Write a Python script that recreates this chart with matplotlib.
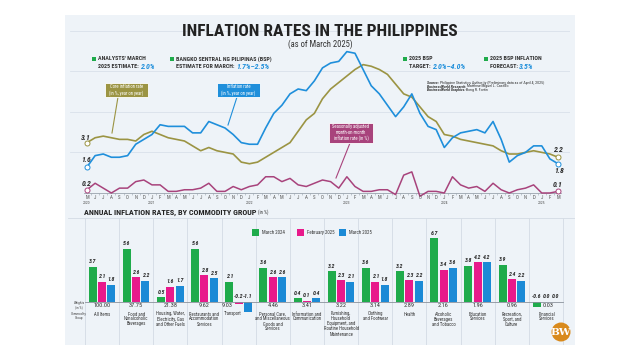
import matplotlib
matplotlib.use('Agg')
import matplotlib.pyplot as plt
import numpy as np
import pandas as pd
from matplotlib import font_manager
from matplotlib.patches import Rectangle, Ellipse
from matplotlib.lines import Line2D

names = {f.name for f in font_manager.fontManager.ttflist}
NARROW = 'DejaVu Sans'
for cand in ['Roboto Condensed', 'Barlow Condensed', 'Archivo Narrow', 'Liberation Sans Narrow']:
    if cand in names:
        NARROW = cand
        break
plt.rcParams['font.family'] = [NARROW, 'DejaVu Sans']

# ---------------- data ----------------
months = pd.date_range('2020-05-01', '2025-03-01', freq='MS')
month_letters = [m.strftime('%b')[0] for m in months]

headline = [1.6, 2.3, 2.4, 2.2, 2.2, 2.3, 3.0, 3.3,
            3.6, 4.2, 4.1, 4.1, 4.1, 3.7, 3.7, 4.4, 4.2, 4.0, 3.6, 3.1,
            3.0, 3.0, 4.0, 4.9, 5.4, 6.1, 6.4, 6.3, 6.9, 7.7, 8.0, 8.1,
            8.7, 8.6, 7.6, 6.6, 6.1, 5.4, 4.7, 5.3, 6.1, 4.9, 4.1, 3.9,
            2.8, 3.4, 3.7, 3.8, 3.9, 3.7, 4.4, 3.3, 1.9, 2.3, 2.5, 2.9,
            2.9, 2.1, 1.8]
core = [3.1, 3.4, 3.5, 3.4, 3.3, 3.3, 3.2, 3.6,
        3.8, 3.6, 3.4, 3.3, 3.2, 2.9, 2.6, 2.8, 2.6, 2.5, 2.4, 1.9,
        1.8, 1.9, 2.2, 2.5, 2.8, 3.1, 3.8, 4.5, 4.9, 5.8, 6.4, 6.8,
        7.2, 7.6, 7.9, 7.8, 7.6, 7.3, 6.7, 6.1, 5.9, 5.3, 4.7, 4.4,
        3.6, 3.5, 3.3, 3.2, 3.1, 3.0, 2.9, 2.6, 2.4, 2.4, 2.5, 2.6,
        2.5, 2.4, 2.2]
mom = [0.2, 0.6, 0.3, 0.0, 0.3, 0.3, 0.7, 0.8,
       0.5, 0.5, 0.1, 0.1, 0.2, 0.2, 0.3, 0.6, 0.1, 0.1, 0.4, 0.2,
       0.4, 0.5, 1.0, 1.0, 0.7, 0.9, 0.5, 0.4, 0.6, 0.8, 0.7, 0.3,
       1.0, 0.4, 0.1, 0.1, 0.2, 0.2, -0.1, 1.1, 1.3, -0.2, 0.1, 0.1,
       0.0, 1.0, 0.5, 0.3, 0.4, 0.1, 0.6, 0.2, 0.0, 0.2, 0.3, 0.5,
       0.0, 0.0, 0.1]

categories = ["All Items", "Food and\nNonalcoholic\nBeverages",
              "Housing, Water,\nElectricity, Gas\nand Other Fuels",
              "Restaurants and\nAccommodation\nServices", "Transport",
              "Personal Care,\nand Miscellaneous\nGoods and\nServices",
              "Information and\nCommunication",
              "Furnishing,\nHousehold\nEquipment, and\nRoutine Household\nMaintenance",
              "Clothing\nand Footwear", "Health",
              "Alcoholic\nBeverages\nand Tobacco", "Education\nServices",
              "Recreation,\nSport, and\nCulture", "Financial\nServices"]
weights = ["100.00", "37.75", "21.38", "9.62", "9.03", "4.46", "3.41",
           "3.22", "3.14", "2.89", "2.16", "1.96", "0.96", "0.03"]
mar2024 = [3.7, 5.6, 0.5, 5.6, 2.1, 3.6, 0.4, 3.2, 3.6, 3.2, 6.7, 3.8, 3.9, -0.6]
feb2025 = [2.1, 2.6, 1.6, 2.8, -0.2, 2.6, 0.1, 2.3, 2.1, 2.3, 3.4, 4.2, 2.4, 0.0]
mar2025 = [1.8, 2.2, 1.7, 2.5, -1.1, 2.6, 0.4, 2.1, 1.8, 2.2, 3.6, 4.2, 2.2, 0.0]
series_names = ["March 2024", "February 2025", "March 2025"]

# ---------------- styles ----------------
C_BLUE = '#1f8fdb'
C_OLIVE = '#9b9443'
C_MAG = '#a8437c'
C_GREEN = '#1fab4b'
C_PINK = '#e8198b'
C_BBLUE = '#1b8ad6'
C_TXT = '#2b2b2b'

W, H = 640, 360
fig = plt.figure(figsize=(6.4, 3.6), dpi=100)
fig.patch.set_facecolor('white')


def fx(x):
    return x / W


def fy(y):
    return 1 - y / H


fig.patches.append(Rectangle((fx(65), fy(345)), fx(575) - fx(65), fy(15) - fy(345),
                             transform=fig.transFigure, facecolor='#eef3f8',
                             edgecolor='none', zorder=-5))

renderer = fig.canvas.get_renderer()


def rich(x, y, parts, va='center'):
    cur = fx(x)
    for s, kw in parts:
        t = fig.text(cur, fy(y), s, ha='left', va=va, **kw)
        bb = t.get_window_extent(renderer=renderer)
        cur = bb.x1 / W
    return cur


# ---------------- line chart ----------------
PXM = (558 - 87) / 58.0
PXU = 16.25
ax = fig.add_axes([fx(70), fy(200), (570 - 70) / W, (200 - 25) / H])
ax.set_xlim(-(87 - 70) / PXM, 58 + (570 - 558) / PXM)
ax.set_ylim(-(200 - 193) / PXU, (193 - 25) / PXU)
ax.axis('off')
ax.patch.set_alpha(0)

for g in [2.5, 5, 7.5, 10]:
    ax.axhline(g, color='#d9e1ea', lw=0.6, zorder=0)

x = np.arange(len(months))
ax.plot([-0.4, len(months) - 0.6], [0, 0], color='#9aa3ad', lw=0.6, zorder=1)
ax.vlines(x[:-1] + 0.5, -0.12, 0, color='#9aa3ad', lw=0.4)

ax.plot(x, core, color=C_OLIVE, lw=1.2, zorder=3)
ax.plot(x, headline, color=C_BLUE, lw=1.2, zorder=4)
ax.plot(x, mom, color=C_MAG, lw=1.1, zorder=3)

for ser, col in [(core, C_OLIVE), (headline, C_BLUE), (mom, C_MAG)]:
    ax.plot([x[0], x[-1]], [ser[0], ser[-1]], 'o', ms=3.6, mfc='white', mec=col,
            mew=0.7, zorder=5)

lab_kw = dict(fontsize=5.6, fontweight='bold', fontstyle='italic', color=C_TXT,
              ha='center', va='center')
ax.text(x[0] - 0.1, core[0] + 0.32, f"{core[0]:.1f}", **lab_kw)
ax.text(x[0] - 0.1, headline[0] + 0.45, f"{headline[0]:.1f}", **lab_kw)
ax.text(x[0] - 0.1, mom[0] + 0.38, f"{mom[0]:.1f}", **lab_kw)
ax.text(x[-1], core[-1] + 0.45, f"{core[-1]:.1f}", **lab_kw)
ax.text(x[-1] + 0.1, headline[-1] - 0.4, f"{headline[-1]:.1f}", **lab_kw)
ax.text(x[-1], mom[-1] + 0.42, f"{mom[-1]:.1f}", **lab_kw)

for i, l in enumerate(month_letters):
    ax.text(i, -0.25, l, ha='center', va='center', fontsize=3.5, color='#555')
for i, m in enumerate(months):
    if m.month == 1 or i == 0:
        ax.text(i, -0.6, str(m.year), ha='center', va='center', fontsize=2.8,
                color='#555')


# callouts
def callout(x0, y0, x1, y1, col, lines, px0, py0, px1, py1):
    fig.patches.append(Rectangle((fx(x0), fy(y1)), fx(x1) - fx(x0), fy(y0) - fy(y1),
                                 transform=fig.transFigure, facecolor=col,
                                 edgecolor='white', lw=0.6, zorder=6))
    fig.lines.append(Line2D([fx(px0), fx(px1)], [fy(py0), fy(py1)],
                            transform=fig.transFigure, color=col, lw=0.8, zorder=5))
    fig.text(fx((x0 + x1) / 2), fy((y0 + y1) / 2), lines, ha='center', va='center',
             fontsize=3.3, color='white', linespacing=1.15, zorder=7)


callout(105, 83, 148, 97, C_OLIVE, "Core inflation rate\n(in %, year on year)",
        118, 97, 112, 133)
callout(217, 83, 260, 97, C_BLUE, "Inflation rate\n(in %, year on year)",
        237, 97, 228, 125)
callout(329, 123, 373, 143, C_MAG,
        "Seasonally adjusted\nmonth-on-month\ninflation rate (in %)",
        350, 143, 336, 178)

# source
src_kw = dict(fontsize=2.9, color='#333')
rich(427, 83, [("Source: ", dict(fontweight='bold', fontstyle='italic', **src_kw)),
               ("Philippine Statistics Authority (Preliminary data as of April 4, 2025)", src_kw)])
rich(427, 86.5, [("BusinessWorld Research: ", dict(fontweight='bold', fontstyle='italic', **src_kw)),
                 ("Matthew Miguel L. Castillo", src_kw)])
rich(427, 90, [("BusinessWorld Graphics: ", dict(fontweight='bold', fontstyle='italic', **src_kw)),
               ("Bong R. Fortin", src_kw)])

# title
fig.text(0.5, fy(31.5), "INFLATION RATES IN THE PHILIPPINES", ha='center', va='center',
         fontsize=12.5, fontweight='bold', color='#222')
fig.text(0.5, fy(44), "(as of March 2025)", ha='center', va='center', fontsize=6.2,
         color='#333')

# header items
hk = dict(fontsize=4.35, fontweight='bold', color='#333')
vk = dict(fontsize=5.6, fontweight='bold', fontstyle='italic', color=C_BLUE)


def header(xs, l1, l2, val):
    fig.patches.append(Rectangle((fx(xs), fy(60.5)), 3.6 / W, 3.6 / H,
                                 transform=fig.transFigure, facecolor=C_GREEN,
                                 edgecolor='none', zorder=3))
    fig.text(fx(xs + 6), fy(58.7), l1, ha='left', va='center', **hk)
    rich(xs + 6, 66.7, [(l2, hk), (val, vk)])


header(92, "ANALYSTS' MARCH", "2025 ESTIMATE: ", "2.0%")
header(170, "BANGKO SENTRAL NG PILIPINAS (BSP)", "ESTIMATE FOR MARCH: ", "1.7%\u20132.5%")
header(403, "2025 BSP", "TARGET: ", "2.0%\u20134.0%")
header(484, "2025 BSP INFLATION", "FORECAST: ", "3.5%")

# ---------------- bar chart ----------------
PXC = (563 - 85) / 14.0
PXB = 9.47
BASE = 301.7
bx = fig.add_axes([fx(68), fy(345), (575 - 68) / W, (345 - 215) / H])
bx.set_xlim(-(102 - 68) / PXC, 13 + (575 - 546) / PXC)
bx.set_ylim(-(345 - BASE) / PXB, (BASE - 215) / PXB)
bx.axis('off')
bx.patch.set_alpha(0)

n = len(categories)
ci = np.arange(n)
bx.vlines(np.arange(-0.5, n), -(345 - BASE) / PXB, (BASE - 218) / PXB,
          color='#d3dbe4', lw=0.6, zorder=0)
bx.axhline((BASE - 218) / PXB, color='#d3dbe4', lw=0.6, zorder=0)
bx.plot([-0.5, n - 0.5], [0, 0], color='#8a929b', lw=0.6, zorder=3)

off = 9.3 / PXC
bw = 8.0 / PXC
vlk = dict(fontsize=4.2, fontweight='bold', fontstyle='italic', color=C_TXT,
           ha='center', va='bottom')
for k, (vals, col) in enumerate([(mar2024, C_GREEN), (feb2025, C_PINK), (mar2025, C_BBLUE)]):
    xs = ci + (k - 1) * off
    bx.bar(xs, vals, width=bw, color=col, zorder=2, label=series_names[k])
    for xx, v in zip(xs, vals):
        y = v + 0.25 if v > 0 else 0.3
        bx.text(xx, y, f"{v:.1f}", **vlk)

for i in range(n):
    wshift = cshift = 0.0
    if min(feb2025[i], mar2025[i]) < -0.5:
        wshift, cshift = -0.34, -0.16
    elif mar2024[i] < 0:
        wshift, cshift = 0.06, 0.03
    bx.text(i + wshift, -(305.8 - BASE) / PXB, weights[i], ha='center', va='center',
            fontsize=4.5, color='#333')
    bx.text(i + cshift, -(311.5 - BASE) / PXB, categories[i], ha='center', va='top',
            fontsize=3.3, color='#333', linespacing=1.0)

fig.text(fx(79), fy(305), "Weights\n(in %)", ha='center', va='center', fontsize=2.5,
         color='#444', linespacing=1.0)
fig.text(fx(79), fy(316), "Commodity\nGroup", ha='center', va='center', fontsize=2.5,
         color='#444', linespacing=1.0)

rich(84, 212.5, [("ANNUAL INFLATION RATES, BY COMMODITY GROUP ",
                  dict(fontsize=5.9, fontweight='bold', color='#222')),
                 ("(in %)", dict(fontsize=3.4, color='#333'))])

# legend
for xs, col, nm in [(252, C_GREEN, series_names[0]), (297, C_PINK, series_names[1]),
                    (339, C_BBLUE, series_names[2])]:
    fig.patches.append(Rectangle((fx(xs), fy(236)), 7 / W, 7 / H,
                                 transform=fig.transFigure, facecolor=col,
                                 edgecolor='none', zorder=3))
    fig.text(fx(xs + 10), fy(232.5), nm, ha='left', va='center', fontsize=3.5, color='#333')

# logo
fig.patches.append(Ellipse((fx(561), fy(332)), 19 / W, 19 / H, transform=fig.transFigure,
                           facecolor='#d98a1c', edgecolor='none', zorder=3))
fig.text(fx(561), fy(332.5), "BW", ha='center', va='center', fontsize=7.5,
         fontweight='bold', color='white', family='DejaVu Serif', zorder=4)

fig.savefig('out.png', dpi=100, facecolor='white')
